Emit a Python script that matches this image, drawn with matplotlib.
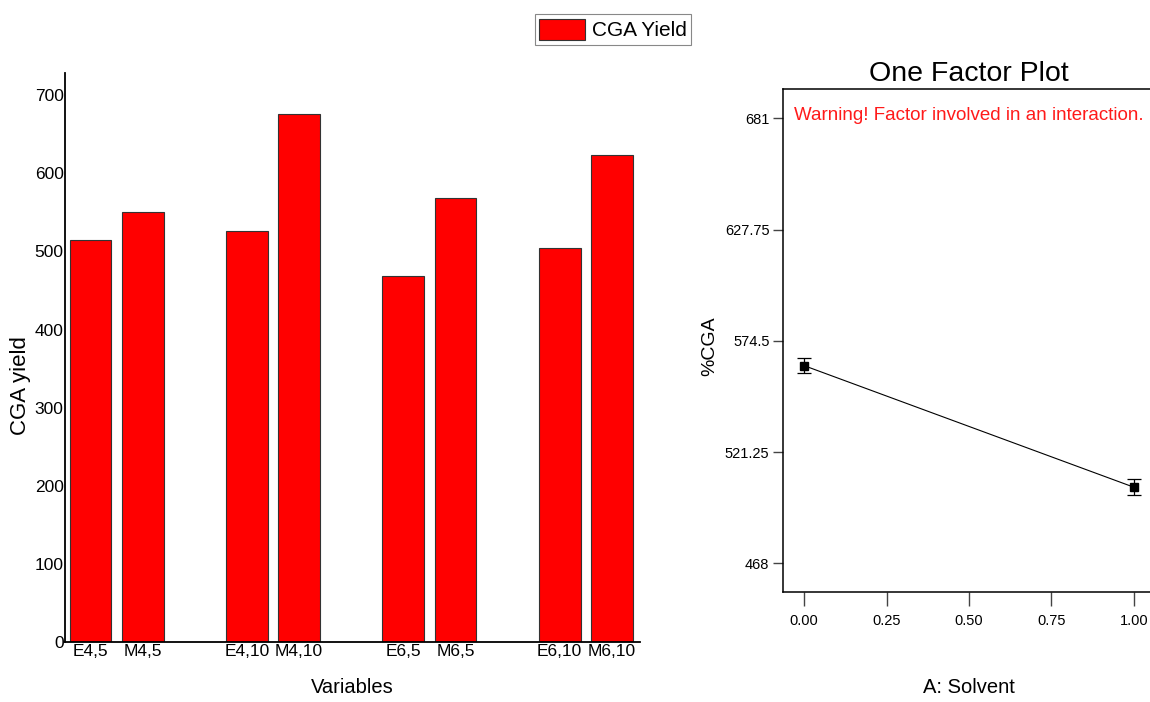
import numpy as np
import matplotlib
matplotlib.use('Agg')
import matplotlib.pyplot as plt

# CGA yield for each extraction condition (solvent, pH, time)
labels = ['E4,5', 'M4,5', 'E4,10', 'M4,10', 'E6,5', 'M6,5', 'E6,10', 'M6,10']
positions = [0, 1, 3, 4, 6, 7, 9, 10]
yields = [515, 550, 526, 676, 469, 569, 505, 624]

# one factor plot: solvent effect on %CGA
solvent = [0.0, 1.0]
cga_mean = [562.6, 504.4]
cga_err = [3.7, 3.7]
factor_ticks = [468, 521.25, 574.5, 627.75, 681]
factor_ticklabels = ['468', '521.25', '574.5', '627.75', '681']

FONT = ['Liberation Sans', 'DejaVu Sans']

fig = plt.figure(figsize=(11.5, 7.02), dpi=100)

# bar chart
ax1 = fig.add_axes([0.0565, 0.0859, 0.5, 0.8105])
bars = ax1.bar(positions, yields, width=0.8, color='#ff0000', edgecolor='#333333',
               linewidth=0.8, label='CGA Yield')
ax1.set_xlim(-0.49, 10.54)
ax1.set_ylim(0, 729)
ax1.set_yticks(range(0, 701, 100))
ax1.set_yticklabels([str(v) for v in range(0, 701, 100)], family=FONT, fontsize=12.5)
ax1.set_xticks(positions)
ax1.set_xticklabels(labels, family=FONT, fontsize=12.5)
ax1.tick_params(axis='both', length=0)
ax1.tick_params(axis='y', pad=1)
ax1.tick_params(axis='x', pad=2)
ax1.spines['top'].set_visible(False)
ax1.spines['right'].set_visible(False)
ax1.spines['left'].set_linewidth(1.3)
ax1.spines['bottom'].set_linewidth(1.3)
ax1.set_xlabel('Variables', family=FONT, fontsize=14.5)
ax1.xaxis.set_label_coords(0.5, -0.081)
ax1.xaxis.label.set_va('center')
ax1.set_ylabel('CGA yield', family=FONT, fontsize=16)
ax1.yaxis.set_label_coords(-0.078, 0.45)
ax1.yaxis.label.set_va('center')

leg = fig.legend(handles=[bars], labels=['CGA Yield'], loc='center',
                 bbox_to_anchor=(0.533, 0.958), prop={'family': FONT, 'size': 15},
                 fancybox=False, framealpha=1, edgecolor='#888888',
                 handlelength=2.2, handleheight=1.2, handletextpad=0.3,
                 borderpad=0.2, borderaxespad=0)
leg.get_frame().set_linewidth(0.8)

# one factor plot
ax2 = fig.add_axes([0.6806, 0.1563, 0.324, 0.7165])
ax2.errorbar(solvent, cga_mean, yerr=cga_err, color='black', linewidth=0.8,
             marker='s', markersize=5.5, capsize=5, capthick=0.9, elinewidth=0.9)
ax2.set_xlim(-0.065, 1.065)
ax2.set_ylim(454.1, 694.9)
ax2.set_yticks(factor_ticks)
ax2.set_yticklabels(factor_ticklabels, family=FONT, fontsize=10.5)
ax2.set_xticks([0, 0.25, 0.5, 0.75, 1.0])
ax2.set_xticklabels(['0.00', '0.25', '0.50', '0.75', '1.00'], family=FONT, fontsize=10.5)
ax2.tick_params(axis='y', direction='out', length=7.5, width=1, color='#444444', pad=2)
ax2.tick_params(axis='x', direction='out', length=10, width=1, color='#444444', pad=6)
ax2.spines['right'].set_visible(False)
for s in ['top', 'left', 'bottom']:
    ax2.spines[s].set_linewidth(1.1)
ax2.set_title('One Factor Plot', family=FONT, fontsize=20.5, pad=6)
ax2.text(0.03, 0.965, 'Warning! Factor involved in an interaction.', transform=ax2.transAxes,
         color='#ff1a1a', family=FONT, fontsize=13.5, ha='left', va='top')
ax2.set_xlabel('A: Solvent', family=FONT, fontsize=14.5)
ax2.xaxis.set_label_coords(0.5, -0.19)
ax2.xaxis.label.set_va('center')
ax2.set_ylabel('%CGA', family=FONT, fontsize=14)
ax2.yaxis.set_label_coords(-0.195, 0.49)
ax2.yaxis.label.set_va('center')

fig.savefig('out.png', dpi=100)
